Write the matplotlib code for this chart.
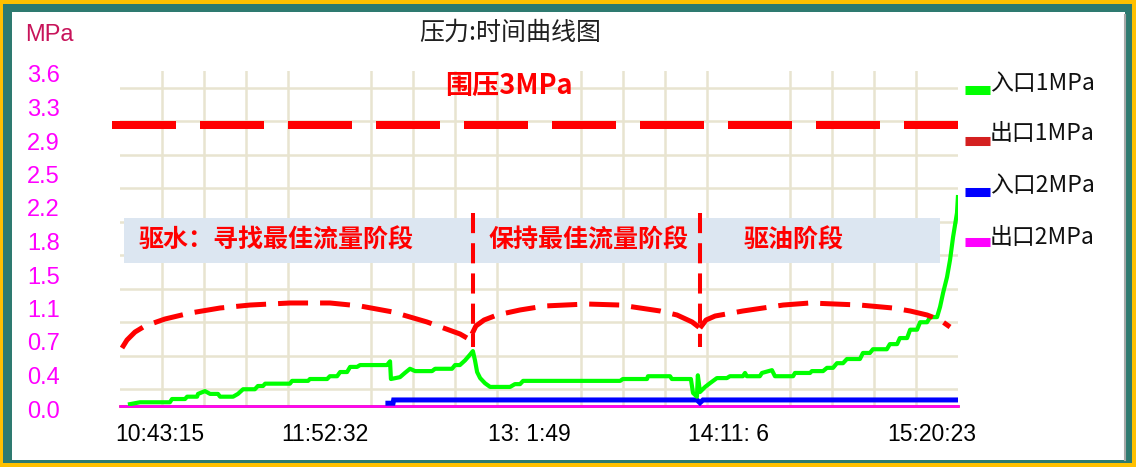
import matplotlib
matplotlib.use('Agg')
import matplotlib.pyplot as plt
from matplotlib.patches import Rectangle
from matplotlib.lines import Line2D
import matplotlib.transforms as mtransforms

# ---------------- data ----------------
# time axis in minutes after 10:43:15
xtick_pos = [0.0, 69.283, 138.567, 207.85, 277.133]
xtick_labels = ["10:43:15", "11:52:32", "13: 1:49", "14:11: 6", "15:20:23"]
ytick_pos = [0.0, 0.36, 0.72, 1.08, 1.44, 1.80, 2.16, 2.52, 2.88, 3.24, 3.60]
ytick_labels = ["0.0", "0.4", "0.7", "1.1", "1.5", "1.8", "2.2", "2.5", "2.9", "3.3", "3.6"]

series_names = ["入口1MPa", "出口1MPa", "入口2MPa", "出口2MPa"]
series_colors = ["#00FF00", "#D42020", "#0000FF", "#FF00FF"]

in1_t = [3.3, 6.6, 16.5, 17.2, 21.5, 22.2, 25.5, 25.8, 28.1, 29.8, 32.4, 33.1, 37.4, 39.0,
         40.7, 44.6, 45.6, 47.3, 48.0, 56.2, 56.9, 62.2, 62.8, 68.5, 69.4, 71.8, 72.8, 75.1,
         76.1, 78.4, 79.4, 88.3, 89.3, 89.6, 92.6, 94.2, 95.9, 97.6, 103.2, 104.2, 109.8,
         110.8, 112.4, 114.1, 115.7, 116.7, 117.4, 118.1, 119.1, 120.7, 122.4, 129.0, 130.6,
         132.3, 133.3, 165.4, 166.3, 174.3, 174.6, 181.9, 182.5, 188.8, 189.5, 190.8, 191.1,
         191.8, 193.5, 195.1, 197.4, 200.7, 201.7, 206.0, 206.7, 207.3, 211.6, 212.3, 215.6,
         216.6, 222.6, 223.2, 228.2, 228.8, 232.5, 233.8, 235.8, 237.1, 239.1, 240.4, 244.7,
         245.7, 248.0, 249.0, 253.6, 254.6, 257.0, 257.9, 260.3, 261.3, 263.6, 264.6, 266.9,
         267.9, 270.2, 271.2, 272.2, 273.5, 274.5, 275.5, 276.8, 277.1]
in1_v = [0.02, 0.04, 0.04, 0.075, 0.075, 0.10, 0.10, 0.13, 0.16, 0.13, 0.13, 0.10, 0.10, 0.13,
         0.18, 0.18, 0.215, 0.215, 0.24, 0.24, 0.27, 0.27, 0.29, 0.29, 0.32, 0.32, 0.365, 0.365,
         0.42, 0.42, 0.44, 0.44, 0.48, 0.29, 0.31, 0.355, 0.40, 0.375, 0.375, 0.40, 0.40,
         0.44, 0.44, 0.49, 0.55, 0.59, 0.49, 0.365, 0.30, 0.245, 0.205, 0.205, 0.235,
         0.235, 0.27, 0.27, 0.29, 0.29, 0.32, 0.32, 0.29, 0.29, 0.14, 0.10, 0.33,
         0.15, 0.205, 0.245, 0.30, 0.30, 0.32, 0.32, 0.355, 0.32, 0.32, 0.355, 0.385,
         0.32, 0.32, 0.355, 0.355, 0.375, 0.375, 0.41, 0.41, 0.46, 0.46, 0.505, 0.505,
         0.57, 0.57, 0.61, 0.61, 0.665, 0.665, 0.73, 0.73, 0.82, 0.82, 0.90, 0.90,
         0.955, 0.955, 1.065, 1.215, 1.385, 1.57, 1.815, 2.075, 2.245]
out1_t = [0.0, 277.133]
out1_v = [0.0, 0.0]
in2_t = [88.6, 90.3, 90.5, 190.8, 191.8, 192.8, 277.133]
in2_v = [0.03, 0.03, 0.065, 0.065, 0.035, 0.065, 0.065]
out2_t = [0.0, 277.133]
out2_v = [0.0, 0.0]

confining_pressure = 3.02
confining_label = "围压3MPa"
stage_labels = ["驱水：寻找最佳流量阶段", "保持最佳流量阶段", "驱油阶段"]
stage_label_x = [51.5, 155.1, 222.9]
stage_bounds = [116.8, 191.8]

brace1_t = [0.66, 2.31, 4.96, 8.27, 14.88, 23.15, 33.07, 42.99, 56.22, 69.45, 79.37, 90.28, 101.52, 112.44, 114.75]
brace1_v = [0.623, 0.709, 0.795, 0.860, 0.935, 0.999, 1.053, 1.085, 1.107, 1.107, 1.075, 1.010, 0.903, 0.774, 0.731]
brace2_t = [116.4, 117.7, 120.4, 124.7, 132.3, 140.5, 154.4, 165.4, 172.0, 178.6, 184.2, 189.2, 191.8]
brace2_v = [0.774, 0.860, 0.924, 0.978, 1.032, 1.075, 1.096, 1.085, 1.053, 1.021, 0.978, 0.903, 0.838]
brace3_t = [191.8, 193.8, 196.8, 206.0, 219.3, 228.2, 244.7, 255.6, 261.3, 266.9, 271.2, 274.5]
brace3_v = [0.838, 0.924, 0.967, 1.021, 1.085, 1.107, 1.085, 1.053, 1.021, 0.978, 0.924, 0.849]

# ---------------- figure ----------------
W, H = 1136, 467
fig = plt.figure(figsize=(W / 100, H / 100), dpi=100, facecolor='#FFC000')


def fx(x):
    return x / W


def fy(y):
    return 1 - y / H


fig.patches.append(Rectangle((fx(3), fy(463)), fx(1132) - fx(3), fy(4) - fy(463),
                             transform=fig.transFigure, facecolor='#2E7A70',
                             edgecolor='none', zorder=-3))
fig.patches.append(Rectangle((fx(12), fy(460)), fx(1125) - fx(12), fy(12) - fy(460),
                             transform=fig.transFigure, facecolor='white',
                             edgecolor='none', zorder=-2))
fig.add_artist(Line2D([fx(1125), fx(1125)], [fy(15), fy(460)], transform=fig.transFigure,
                      color='#A8A8A8', lw=1.5, zorder=-1))

narrow = ['Liberation Sans Narrow', 'Liberation Sans', 'DejaVu Sans']
cjk = ['Noto Sans CJK SC', 'DejaVu Sans']

ax = fig.add_axes([fx(120), fy(406), (958 - 120) / W, (406 - 71) / H])
ax.set_facecolor('white')
ax.set_xlim(0, 277.133)
ax.set_ylim(0, 3.6)
for s in ax.spines.values():
    s.set_visible(False)

grid_x = [277.133 * i / 20 for i in range(21)]
grid_y = [0.18 * i for i in range(21)]
ax.set_xticks(grid_x, minor=True)
ax.set_yticks(grid_y, minor=True)
ax.grid(which='minor', color='#E8E4D0', lw=1.8)
ax.grid(which='major', visible=False)
ax.set_axisbelow(True)

ax.set_xticks(xtick_pos)
ax.set_xticklabels(xtick_labels, fontsize=16.5, family=narrow, color='black')
ax.set_yticks(ytick_pos)
ax.set_yticklabels(ytick_labels, fontsize=17, family=narrow, color='#FF00FF')
ax.tick_params(which='both', length=0)
ax.tick_params(axis='x', pad=12)
ax.tick_params(axis='y', pad=67)
for t in ax.get_yticklabels():
    t.set_ha('left')
    t.set_transform(t.get_transform() + mtransforms.ScaledTranslation(0, -3 / 100, fig.dpi_scale_trans))
x_off = [40, -4.5, -10, -20.5, -26]
for t, dx in zip(ax.get_xticklabels(), x_off):
    t.set_transform(t.get_transform() + mtransforms.ScaledTranslation(dx / 100, 0, fig.dpi_scale_trans))

# stage box and labels
ax.add_patch(Rectangle((1.32, 1.537), 271.2 - 1.32, 2.020 - 1.537, facecolor='#DCE6F1',
                       edgecolor='none', zorder=1.5))
for lab, x in zip(stage_labels, stage_label_x):
    ax.text(x, 1.773, lab, fontsize=18, family=cjk, fontweight='bold', color='#FF0000',
            ha='center', va='center', zorder=4)

# series
ax.plot(out1_t, out1_v, color=series_colors[1], lw=1.8, zorder=2, clip_on=False)
ax.plot(out2_t, out2_v, color=series_colors[3], lw=1.8, zorder=2.1, clip_on=False)
ax.plot(in2_t, in2_v, color=series_colors[2], lw=3.6, zorder=2.2, solid_joinstyle='miter')
ax.plot(in1_t, in1_v, color=series_colors[0], lw=3.0, zorder=2.5)

# confining pressure line
ax.plot([-2.65, 277.133], [confining_pressure, confining_pressure], color='#FF0000', lw=5.76,
        linestyle=(0, (8, 3)), dash_capstyle='butt', clip_on=False, zorder=3)
ax.text(128.6, 3.439, confining_label, fontsize=19.5, family=cjk, fontweight='bold',
        color='#FF0000', ha='center', va='center', zorder=4)

# stage boundaries and braces
for xb in stage_bounds:
    ax.plot([xb, xb], [2.07, 0.634], color='#FF0000', lw=2.9, linestyle=(0, (5, 2.5)),
            dash_capstyle='butt', zorder=3)
for bt, bv in [(brace1_t, brace1_v), (brace2_t, brace2_v), (brace3_t, brace3_v)]:
    ax.plot(bt, bv, color='#FF0000', lw=3.6, linestyle=(0, (6, 2.4)), dash_capstyle='butt',
            zorder=3)

# titles
fig.text(fx(510), fy(33), "压力:时间曲线图", fontsize=18, family=cjk, color='#202020',
         ha='center', va='center')
fig.text(fx(25), fy(35), "MPa", fontsize=17, family=narrow, color='#C8145A',
         ha='left', va='center')

# legend
line_y = [90, 141, 192, 242]
text_y = [83, 134, 185, 238]
for name, col, ly, ty in zip(series_names, series_colors, line_y, text_y):
    fig.add_artist(Line2D([fx(965), fx(990)], [fy(ly), fy(ly)], transform=fig.transFigure,
                          color=col, lw=6.5, solid_capstyle='butt'))
    fig.text(fx(990), fy(ty), name, fontsize=16.5, family=cjk, color='#101010',
             ha='left', va='center')

fig.savefig('out.png', dpi=100, facecolor=fig.get_facecolor())
